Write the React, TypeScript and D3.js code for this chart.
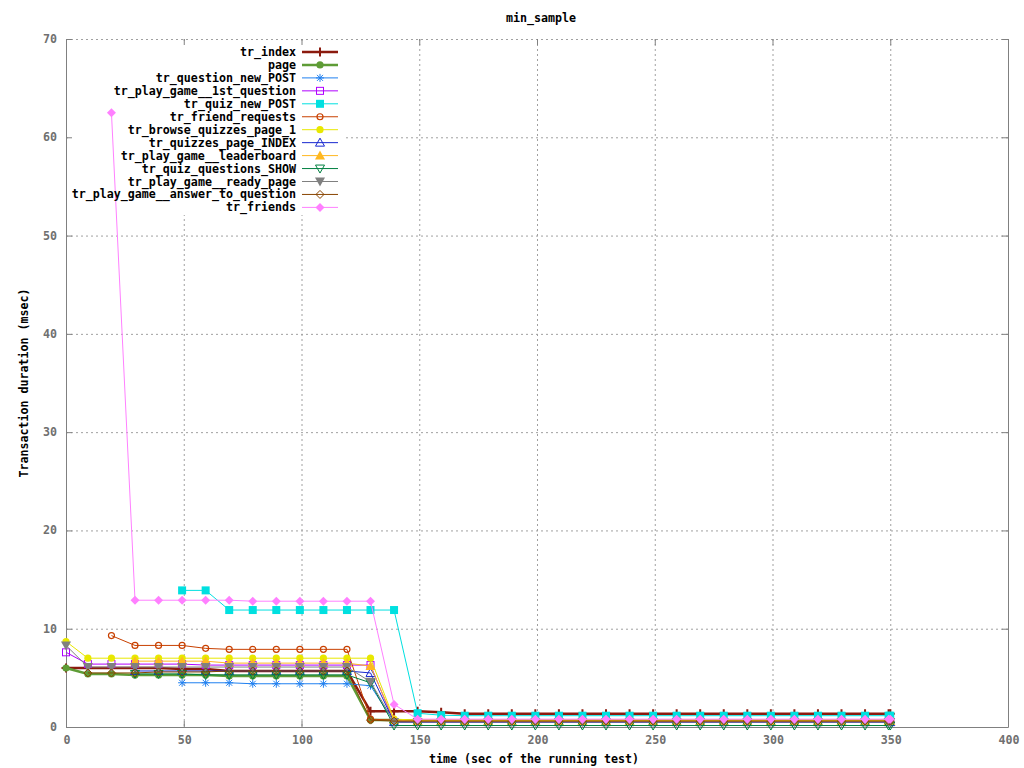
import * as d3 from "d3";

// sample times (sec) and one array per transaction
const times = [0, 9.3, 19.3, 29.3, 39.3, 49.3, 59.3, 69.3, 79.3, 89.3, 99.3, 109.3, 119.3, 129.3, 139.3, 149.3, 159.3, 169.3, 179.3, 189.3, 199.3, 209.3, 219.3, 229.3, 239.3, 249.3, 259.3, 269.3, 279.3, 289.3, 299.3, 309.3, 319.3, 329.3, 339.3, 349.3, 350];

const trIndex = [6.0, 6.0, 6.0, 6.0, 6.0, 5.9, 5.9, 5.7, 5.7, 5.7, 5.7, 5.7, 5.7, 1.6, 1.6, 1.6, 1.5, 1.35, 1.35, 1.35, 1.35, 1.35, 1.35, 1.35, 1.35, 1.35, 1.35, 1.35, 1.35, 1.35, 1.35, 1.35, 1.35, 1.35, 1.35, 1.35, 1.35];
const page = [6.0, 5.4, 5.4, 5.3, 5.3, 5.3, 5.3, 5.2, 5.2, 5.2, 5.2, 5.2, 5.2, 0.7, 0.7, 0.6, 0.6, 0.6, 0.6, 0.6, 0.6, 0.6, 0.6, 0.6, 0.6, 0.6, 0.6, 0.6, 0.6, 0.6, 0.6, 0.6, 0.6, 0.6, 0.6, 0.6, 0.6];
const questionNewPost = [null, null, null, null, null, 4.5, 4.5, 4.5, 4.4, 4.4, 4.4, 4.4, 4.4, 4.2, 0.5, 0.5, 0.5, 0.5, 0.5, 0.5, 0.5, 0.5, 0.5, 0.5, 0.5, 0.5, 0.5, 0.5, 0.5, 0.5, 0.5, 0.5, 0.5, 0.5, 0.5, 0.5, 0.5];
const playGame1st = [7.6, 6.4, 6.4, 6.4, 6.4, 6.4, 6.3, 6.3, 6.3, 6.3, 6.3, 6.3, 6.3, 6.3, 0.5, 0.5, 0.5, 0.5, 0.5, 0.5, 0.5, 0.5, 0.5, 0.5, 0.5, 0.5, 0.5, 0.5, 0.5, 0.5, 0.5, 0.5, 0.5, 0.5, 0.5, 0.5, 0.5];
const quizNewPost = [null, null, null, null, null, 13.9, 13.9, 11.9, 11.9, 11.9, 11.9, 11.9, 11.9, 11.9, 11.9, 1.4, 1.2, 1.15, 1.15, 1.15, 1.15, 1.15, 1.15, 1.15, 1.15, 1.15, 1.15, 1.15, 1.15, 1.15, 1.15, 1.15, 1.15, 1.15, 1.15, 1.15, 1.15];
const friendRequests = [null, null, 9.3, 8.3, 8.3, 8.3, 8.0, 7.9, 7.9, 7.9, 7.9, 7.9, 7.9, 0.8, 0.7, 0.7, 0.7, 0.7, 0.7, 0.7, 0.7, 0.7, 0.7, 0.7, 0.7, 0.7, 0.7, 0.7, 0.7, 0.7, 0.7, 0.7, 0.7, 0.7, 0.7, 0.7, 0.7];
const browseQuizzes = [8.7, 7.0, 7.0, 7.0, 7.0, 7.0, 7.0, 7.0, 7.0, 7.0, 7.0, 7.0, 7.0, 7.0, 0.8, 0.7, 0.7, 0.7, 0.7, 0.7, 0.7, 0.7, 0.7, 0.7, 0.7, 0.7, 0.7, 0.7, 0.7, 0.7, 0.7, 0.7, 0.7, 0.7, 0.7, 0.7, 0.7];
const quizzesPageIndex = [null, null, null, 5.7, 5.7, 5.7, 5.7, 5.7, 5.7, 5.7, 5.7, 5.7, 5.7, 5.5, 0.5, 0.5, 0.5, 0.5, 0.5, 0.5, 0.5, 0.5, 0.5, 0.5, 0.5, 0.5, 0.5, 0.5, 0.5, 0.5, 0.5, 0.5, 0.5, 0.5, 0.5, 0.5, 0.5];
const leaderboard = [null, null, null, 6.7, 6.7, 6.7, 6.7, 6.5, 6.5, 6.5, 6.5, 6.5, 6.5, 6.2, 0.7, 0.6, 0.6, 0.6, 0.6, 0.6, 0.6, 0.6, 0.6, 0.6, 0.6, 0.6, 0.6, 0.6, 0.6, 0.6, 0.6, 0.6, 0.6, 0.6, 0.6, 0.6, 0.6];
const quizQuestionsShow = [null, null, null, 5.4, 5.4, 5.4, 5.3, 5.3, 5.3, 5.3, 5.3, 5.3, 5.3, 4.5, 0.15, 0.15, 0.15, 0.15, 0.15, 0.15, 0.15, 0.15, 0.15, 0.15, 0.15, 0.15, 0.15, 0.15, 0.15, 0.15, 0.15, 0.15, 0.15, 0.15, 0.15, 0.15, 0.15];
const readyPage = [8.3, 6.1, 6.1, 6.1, 6.1, 6.1, 6.1, 6.1, 6.1, 6.1, 6.1, 6.1, 6.1, 4.6, 0.5, 0.5, 0.5, 0.5, 0.5, 0.5, 0.5, 0.5, 0.5, 0.5, 0.5, 0.5, 0.5, 0.5, 0.5, 0.5, 0.5, 0.5, 0.5, 0.5, 0.5, 0.5, 0.5];
const answerToQuestion = [null, 5.5, 5.5, 5.5, 5.6, 5.6, 5.6, 5.7, 5.7, 5.7, 5.7, 5.7, 5.7, 0.7, 0.6, 0.6, 0.6, 0.6, 0.6, 0.6, 0.6, 0.6, 0.6, 0.6, 0.6, 0.6, 0.6, 0.6, 0.6, 0.6, 0.6, 0.6, 0.6, 0.6, 0.6, 0.6, 0.6];
const trFriends = [null, null, 62.5, 12.9, 12.9, 12.9, 12.9, 12.9, 12.8, 12.8, 12.8, 12.8, 12.8, 12.8, 2.3, 0.8, 0.8, 0.8, 0.8, 0.8, 0.8, 0.8, 0.8, 0.8, 0.8, 0.8, 0.8, 0.8, 0.8, 0.8, 0.8, 0.8, 0.8, 0.8, 0.8, 0.8, 0.8];

const xTicks = [0, 50, 100, 150, 200, 250, 300, 350, 400];
const yTicks = [0, 10, 20, 30, 40, 50, 60, 70];

const series = [
  { name: "tr_index", values: trIndex, color: "#8b1a0e", width: 2.5, marker: "plus" },
  { name: "page", values: page, color: "#5e9c36", width: 2.5, marker: "dot" },
  { name: "tr_question_new_POST", values: questionNewPost, color: "#2080f0", width: 1, marker: "star" },
  { name: "tr_play_game__1st_question", values: playGame1st, color: "#b000ff", width: 1, marker: "square" },
  { name: "tr_quiz_new_POST", values: quizNewPost, color: "#00e0e0", width: 1, marker: "squareFill" },
  { name: "tr_friend_requests", values: friendRequests, color: "#c84000", width: 1, marker: "circle" },
  { name: "tr_browse_quizzes_page_1", values: browseQuizzes, color: "#e8e800", width: 1, marker: "dot" },
  { name: "tr_quizzes_page_INDEX", values: quizzesPageIndex, color: "#1828d0", width: 1, marker: "tri" },
  { name: "tr_play_game__leaderboard", values: leaderboard, color: "#ffb820", width: 1, marker: "triFill" },
  { name: "tr_quiz_questions_SHOW", values: quizQuestionsShow, color: "#008040", width: 1, marker: "triDown" },
  { name: "tr_play_game__ready_page", values: readyPage, color: "#808080", width: 1, marker: "triDownFill" },
  { name: "tr_play_game__answer_to_question", values: answerToQuestion, color: "#884400", width: 1, marker: "diamond" },
  { name: "tr_friends", values: trFriends, color: "#ff80ff", width: 1, marker: "diamondFill" },
];

const W = 1024, H = 768;
const left = 66, right = 1008, top = 39, bottom = 727;
const font = "'DejaVu Sans Mono', monospace";
const fontSize = 11.65;

const markerShape = (type: string, color: string, cx: number, cy: number, key: string) => {
  const t = `translate(${cx},${cy})`;
  switch (type) {
    case "plus":
      return <path key={key} transform={t} d="M-4.5,0H4.5M0,-4.5V4.5" stroke={color} strokeWidth={2} fill="none" />;
    case "dot":
      return <circle key={key} cx={cx} cy={cy} r={3.6} fill={color} />;
    case "star":
      return <path key={key} transform={t} d="M-4,0H4M0,-4V4M-3,-3L3,3M-3,3L3,-3" stroke={color} strokeWidth={1} fill="none" />;
    case "square":
      return <rect key={key} x={cx - 3.5} y={cy - 3.5} width={7} height={7} stroke={color} fill="none" />;
    case "squareFill":
      return <rect key={key} x={cx - 4} y={cy - 4} width={8} height={8} fill={color} />;
    case "circle":
      return <circle key={key} cx={cx} cy={cy} r={3} stroke={color} strokeWidth={1.2} fill="none" />;
    case "tri":
      return <path key={key} transform={t} d="M0,-4.5L4.5,3.5H-4.5Z" stroke={color} fill="none" />;
    case "triFill":
      return <path key={key} transform={t} d="M0,-5L5,4H-5Z" fill={color} />;
    case "triDown":
      return <path key={key} transform={t} d="M0,4.5L4.5,-3.5H-4.5Z" stroke={color} fill="none" />;
    case "triDownFill":
      return <path key={key} transform={t} d="M0,5L5,-4H-5Z" fill={color} />;
    case "diamond":
      return <path key={key} transform={t} d="M0,-4L4,0L0,4L-4,0Z" stroke={color} fill="none" />;
    default:
      return <path key={key} transform={t} d="M0,-4.5L4.5,0L0,4.5L-4.5,0Z" fill={color} />;
  }
};

export default function App() {
  const x = d3.scaleLinear().domain([0, 400]).range([left, right]);
  const y = d3.scaleLinear().domain([0, 70]).range([bottom, top]);

  const line = d3.line<number | null>()
    .defined(d => d !== null)
    .x((d, i) => x(times[i]))
    .y(d => y(d as number));

  const keyTextX = 296, keySample0 = 302, keySample1 = 338;
  const keyRow = (i: number) => 52 + i * 12.95;

  return (
    <svg width={W} height={H} style={{ position: "absolute", left: 0, top: 0, background: "#fff" }}>
      <rect width={W} height={H} fill="#fff" />
      {/* grid */}
      <g stroke="#a0a0a0" strokeDasharray="2,3" strokeWidth={1}>
        {yTicks.slice(1).map(t => (
          <line key={"gy" + t} x1={left} x2={right} y1={y(t) + 0.5} y2={y(t) + 0.5} />
        ))}
        {xTicks.slice(1).map(t => (
          <line key={"gx" + t} x1={x(t) + 0.5} x2={x(t) + 0.5} y1={top} y2={bottom} />
        ))}
      </g>
      {/* key background hides the grid */}
      <rect x={69} y={43} width={277} height={172} fill="#fff" />
      {/* border and ticks */}
      <g stroke="#808080" strokeWidth={1} fill="none">
        <path d={`M${left + 0.5},${top + 0.5}V${bottom + 0.5}H${right + 0.5}V${top + 0.5}`} />
        {yTicks.map(t => (
          <g key={"ty" + t}>
            <line x1={left} x2={left + 6} y1={y(t) + 0.5} y2={y(t) + 0.5} />
            <line x1={right - 6} x2={right} y1={y(t) + 0.5} y2={y(t) + 0.5} />
          </g>
        ))}
        {xTicks.map(t => (
          <g key={"tx" + t}>
            <line x1={x(t) + 0.5} x2={x(t) + 0.5} y1={bottom} y2={bottom - 6} />
            <line x1={x(t) + 0.5} x2={x(t) + 0.5} y1={top} y2={top + 6} />
          </g>
        ))}
      </g>
      {/* tick labels */}
      <g fontFamily={font} fontSize={fontSize} fontWeight="bold" fill="#707070">
        {yTicks.map(t => (
          <text key={"ly" + t} x={left - 9} y={y(t) + 4} textAnchor="end">{t}</text>
        ))}
        {xTicks.map(t => (
          <text key={"lx" + t} x={x(t) + 1} y={bottom + 17} textAnchor="middle">{t}</text>
        ))}
      </g>
      {/* data */}
      {series.map(s => (
        <g key={s.name}>
          <path d={line(s.values) || ""} stroke={s.color} strokeWidth={s.width} fill="none" />
          {s.values.map((v, i) => (v === null ? null : markerShape(s.marker, s.color, x(times[i]), y(v), s.name + i)))}
        </g>
      ))}
      {/* key */}
      <g fontFamily={font} fontSize={fontSize} fontWeight="bold" fill="#000">
        {series.map((s, i) => (
          <g key={"k" + s.name}>
            <text x={keyTextX} y={keyRow(i) + 4} textAnchor="end">{s.name}</text>
            <line x1={keySample0} x2={keySample1} y1={keyRow(i)} y2={keyRow(i)} stroke={s.color} strokeWidth={s.width} />
            {markerShape(s.marker, s.color, (keySample0 + keySample1) / 2, keyRow(i), "km" + i)}
          </g>
        ))}
      </g>
      {/* titles */}
      <g fontFamily={font} fontSize={fontSize} fontWeight="bold" fill="#000">
        <text x={541} y={22} textAnchor="middle">min_sample</text>
        <text x={534} y={763} textAnchor="middle">time (sec of the running test)</text>
        <text transform={`translate(28,383) rotate(-90)`} textAnchor="middle">Transaction duration (msec)</text>
      </g>
    </svg>
  );
}
